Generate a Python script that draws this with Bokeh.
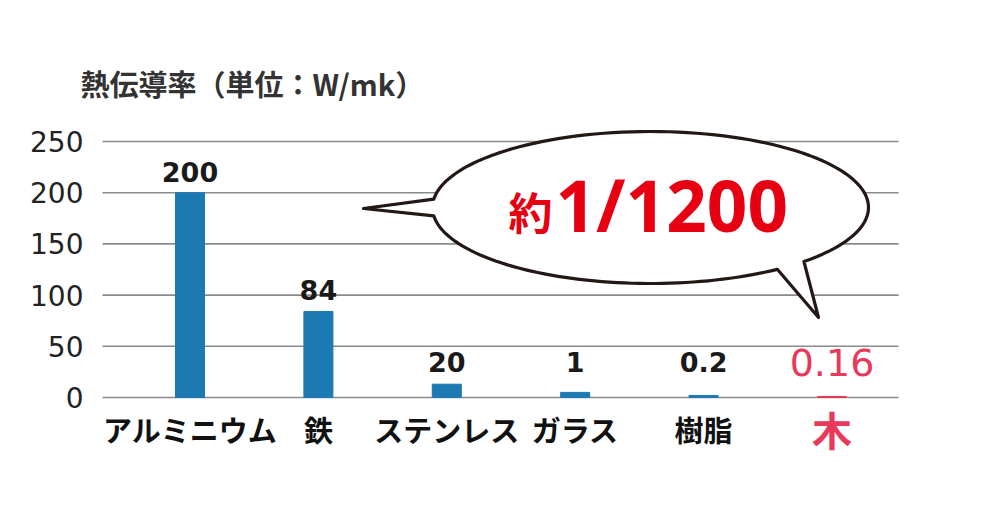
import numpy as np
from bokeh.plotting import figure
from bokeh.models import Range1d, ColumnDataSource
from bokeh.core.properties import value
from bokeh.embed import file_html
from bokeh.resources import INLINE

# ---- data ----
categories = ["アルミニウム", "鉄", "ステンレス", "ガラス", "樹脂", "木"]
bar_heights = [200, 84, 13, 5, 2, 1]          # drawn bar heights
value_labels = ["200", "84", "20", "1", "0.2", "0.16"]
y_ticks = [0, 50, 100, 150, 200, 250]
y_tick_labels = ["0", "50", "100", "150", "200", "250"]
title_text = "熱伝導率（単位：W/mk）"
bubble_prefix = "約"
bubble_ratio = "1/1200"

BLUE = "#1d79b2"
PINK = "#e8385c"
RED = "#e60012"
highlight = "木"

n = len(categories)
xs = list(range(n))
bar_colors = [PINK if c == highlight else BLUE for c in categories]
val_colors = [PINK if c == highlight else "#1a1a1a" for c in categories]
val_sizes = ["38px" if c == highlight else "27px" for c in categories]
val_styles = ["normal" if c == highlight else "bold" for c in categories]
cat_colors = [PINK if c == highlight else "#111111" for c in categories]
cat_sizes = ["40px" if c == highlight else "29px" for c in categories]

# layout helpers: map reference pixel positions to data space
X0, XS = 189.5, 128.4      # px of first category, px per category
Y0, YS = 397.0, 1.024      # px of value 0, px per unit

def dx(px):
    return (px - X0) / XS

def dy(py):
    return (Y0 - py) / YS

W, H = 984, 500
p = figure(width=W, height=H, output_backend="svg", toolbar_location=None,
           x_range=Range1d(dx(0), dx(W)), y_range=Range1d(dy(H), dy(0)),
           min_border_left=0, min_border_right=0, min_border_top=0, min_border_bottom=0)
p.outline_line_color = None
p.background_fill_color = "white"
p.border_fill_color = "white"
p.axis.visible = False
p.grid.visible = False

# horizontal grid lines and y tick labels
n_t = len(y_ticks)
p.segment(x0=[dx(102)] * n_t, x1=[dx(898)] * n_t, y0=y_ticks, y1=y_ticks,
          line_color="#8a8a8a", line_width=1.6)
p.text(x=[dx(83)] * n_t, y=y_ticks, text=y_tick_labels, text_color="#222222",
       text_font=value("DejaVu Sans"), text_font_size="28px",
       text_align="right", text_baseline="middle")

src = ColumnDataSource(dict(x=xs, top=bar_heights, color=bar_colors, lab=value_labels,
                            lab_y=[max(h, 14) for h in bar_heights],
                            vcol=val_colors, vsize=val_sizes, vstyle=val_styles,
                            cat=categories, ccol=cat_colors, csize=cat_sizes,
                            cat_y=[0] * n))

p.vbar(x="x", top="top", bottom=0, width=0.226, color="color", source=src)

p.text(x="x", y="lab_y", text="lab", text_color="vcol", text_font_size="vsize",
       text_font=value("DejaVu Sans"), text_font_style="vstyle",
       text_align="center", text_baseline="middle", y_offset=-21, source=src)

p.text(x="x", y="cat_y", text="cat", text_color="ccol", text_font_size="csize",
       text_font=value("Noto Sans CJK JP"), text_font_style="bold",
       text_align="center", text_baseline="middle", y_offset=31, source=src)

# ---- speech bubble (annotation) ----
cx, cy, a, b = 650, 207, 218, 76
def ell(t):
    return cx + a * np.cos(t), cy - b * np.sin(t)

pts = []
t1 = np.linspace(-np.pi + 0.11, -0.95, 60)
pts += [ell(t) for t in t1]
pts.append((818, 317))
t2 = np.linspace(-0.79, np.pi - 0.11, 90)
pts += [ell(t) for t in t2]
pts.append((363, 208))
bx = [dx(q[0]) for q in pts]
by = [dy(q[1]) for q in pts]
p.patch(bx, by, fill_color="white", line_color="#231815", line_width=3.2, line_join="round")

p.text(x=[dx(552)], y=[dy(210)], text=[bubble_prefix], text_color=RED,
       text_font=value("Noto Sans CJK JP"), text_font_style="bold",
       text_font_size="44px", text_align="right", text_baseline="middle")
p.text(x=[dx(555)], y=[dy(204)], text=[bubble_ratio], text_color=RED,
       text_font=value("Noto Sans"), text_font_style="bold",
       text_font_size="71px", text_align="left", text_baseline="middle")

# title
p.text(x=[dx(80)], y=[dy(82)], text=[title_text], text_color="#333333",
       text_font=value("Noto Sans CJK JP"), text_font_style="bold",
       text_font_size="29px", text_align="left", text_baseline="middle")

open("out.html", "w").write(file_html(p, INLINE))
